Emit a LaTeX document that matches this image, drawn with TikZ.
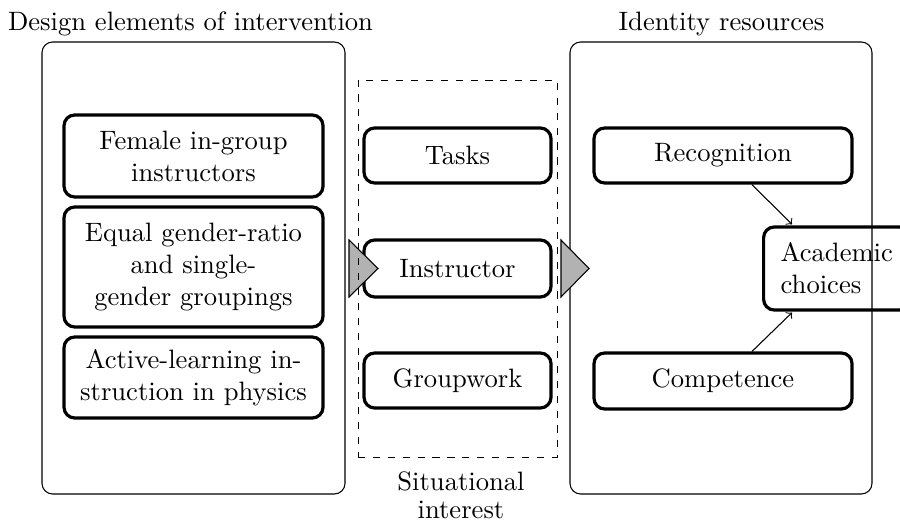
\documentclass[tikz,border=0pt]{standalone}
\usetikzlibrary{calc}
\begin{document}
\begin{tikzpicture}[x=0.376pt,y=-0.376pt,
  sized/.style 2 args={minimum width={#1*0.376pt}, minimum height={#2*0.376pt}},
  panel/.style={draw, rounded corners=4pt, line width=0.4pt, inner sep=0pt},
  item/.style={draw, rounded corners=4pt, line width=1.2pt, align=center, inner sep=0pt},
  title/.style={anchor=base, inner sep=0pt},
  push/.style={draw, line width=0.4pt, fill=black!30, line join=miter},
  link/.style={->, line width=0.4pt}]
\useasboundingbox (0,0) rectangle (900,522);

% outer panels
\node[panel, sized={303}{452}] (left) at (193.5,268) {};
\node[panel, sized={302}{452}] (right) at (721,268) {};
\node[title] (lefttitle) at (190.5,31) {Design elements of intervention};
\node[title] (righttitle) at (721.5,31) {Identity resources};

% design elements
\node[item, sized={259}{82}] (female) at (193.5,156) {Female in-group\\instructors};
\node[item, sized={259}{120}] (ratio) at (193.5,267) {Equal gender-ratio\\and single-\\gender groupings};
\node[item, sized={259}{81}] (active) at (193.5,377.5) {Active-learning in-\\struction in physics};

% situational interest
\node[item, sized={187}{55}] (tasks) at (457.5,155.5) {Tasks};
\node[item, sized={187}{57}] (instr) at (457.5,268.5) {Instructor};
\node[item, sized={187}{55}] (groupw) at (457.5,380.5) {Groupwork};

% identity resources
\node[item, sized={258}{55}] (recog) at (723,155.5) {Recognition};
\node[item, sized={258}{56}] (comp) at (723,381) {Competence};
\node[item, align=left, sized={10}{83}, inner xsep=6.4pt, anchor=west] (acad) at (762,268.5) {Academic\\choices};

\draw[link] ($(recog.south)+(29,0)$) -- ($(acad.north west)+(30,-1)$);
\draw[link] ($(comp.north)+(29,0)$) -- ($(acad.south west)+(30,1)$);

% flow markers between the panels
\draw[push] (349,240) -- (378,268.5) -- (349,297) -- cycle;
\draw[push] (561,240) -- (589,268.5) -- (561,297) -- cycle;

% dashed grouping around the situational factors
\node[draw, dash pattern=on 2.7pt off 2.9pt, line width=0.35pt, inner sep=0pt, sized={199}{377}] (situ) at (457.5,268.5) {};
\node[align=center, anchor=north, inner sep=0pt] (situlabel) at (461,471.5) {Situational\\[-1.5pt]interest};
\end{tikzpicture}
\end{document}
